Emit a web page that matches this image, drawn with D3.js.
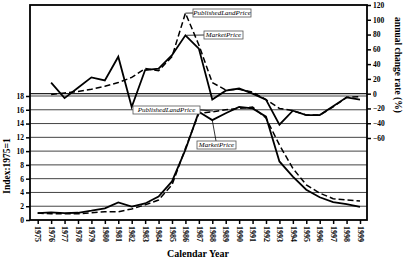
<!DOCTYPE html>
<html><head><meta charset="utf-8">
<script src="https://cdn.jsdelivr.net/npm/d3@7"></script>
<style>body{margin:0;background:#fff}svg{display:block}</style>
</head><body>
<svg id="c" width="405" height="266"></svg>
<script>
const years = d3.range(1975, 2000);
const marketIndex = [1.0,1.1,1.0,1.05,1.35,1.7,2.55,1.95,2.4,3.4,5.6,10.2,15.7,14.5,15.5,16.4,16.2,15.0,8.5,6.3,4.4,3.3,2.6,2.3,1.9];
const landIndex   = [1.0,0.9,0.9,0.9,1.05,1.2,1.2,1.6,2.2,2.9,5.1,10.4,15.5,15.7,16.0,16.2,16.4,14.8,10.9,7.5,5.1,3.9,3.1,2.9,2.75];
const changeYears = d3.range(1976, 2000);
const marketChange = [15,-6,8,22,18,50,-18,32,34,52,79,61,-8,4,7,0,-8,-42,-23,-29,-29,-17,-5,-8];
const landChange   = [-1,1,3,6,10,15,22,34,31,50,109,66,15,5,6,2,-8,-20,-23,-29,-29,-18,-5,-4];
const leftTicks = [0,2,4,6,8,10,12,14,16,18];
const rightTicks = [120,100,80,60,40,20,0,-20,-40,-60];

const svg = d3.select("#c");
const L = 30, R = 367, T = 5, B = 220;
const x = d3.scaleLinear().domain([1975,1999]).range([37.7,360]);
const yL = d3.scaleLinear().domain([0,18]).range([220,96]);
const yR = d3.scaleLinear().domain([-60,120]).range([138,5]);
const font = "'Liberation Serif','Times New Roman',serif";

// gridlines
svg.append("g").selectAll("line").data(leftTicks.filter(d=>d>0)).join("line")
  .attr("x1",L).attr("x2",R).attr("y1",d=>yL(d)).attr("y2",d=>yL(d))
  .attr("stroke","#444").attr("stroke-width",1);
svg.append("line").attr("x1",L).attr("x2",R).attr("y1",yR(0)).attr("y2",yR(0))
  .attr("stroke","#222").attr("stroke-width",1.2);

// frame
svg.append("rect").attr("x",L).attr("y",T).attr("width",R-L).attr("height",B-T)
  .attr("fill","none").attr("stroke","#000").attr("stroke-width",1.8);

// axes
const gx = svg.append("g").attr("transform",`translate(0,${B})`)
  .call(d3.axisBottom(x).tickValues(years).tickFormat(d3.format("d")).tickSize(4).tickSizeOuter(0));
gx.select(".domain").remove();
gx.selectAll("text").attr("transform","rotate(90)").attr("text-anchor","start")
  .attr("x",6).attr("y",0).attr("dy","0.35em");

const gl = svg.append("g").attr("transform",`translate(${L},0)`)
  .call(d3.axisLeft(yL).tickValues(leftTicks).tickSize(4).tickPadding(2));
gl.select(".domain").remove();

const gr = svg.append("g").attr("transform",`translate(${R},0)`)
  .call(d3.axisRight(yR).tickValues(rightTicks).tickSize(4).tickPadding(2));
gr.select(".domain").remove();

svg.selectAll(".tick text").attr("font-family",font).attr("font-weight","bold").attr("font-size",7.5).attr("fill","#000");
gx.selectAll(".tick text").attr("font-size",8);
svg.selectAll(".tick line").attr("stroke","#000").attr("stroke-width",1.5);

// lines
const lineL = d3.line().x((d,i)=>x(years[i])).y(d=>yL(d));
const lineR = d3.line().x((d,i)=>x(changeYears[i])).y(d=>yR(d));
svg.append("path").attr("d",lineL(landIndex)).attr("fill","none").attr("stroke","#000").attr("stroke-width",1.5).attr("stroke-dasharray","6,3");
svg.append("path").attr("d",lineL(marketIndex)).attr("fill","none").attr("stroke","#000").attr("stroke-width",1.8);
svg.append("path").attr("d",lineR(landChange)).attr("fill","none").attr("stroke","#000").attr("stroke-width",1.5).attr("stroke-dasharray","6,3");
svg.append("path").attr("d",lineR(marketChange)).attr("fill","none").attr("stroke","#000").attr("stroke-width",1.8);

// callouts
function callout(text, bx, by, bw, px, py, sx, sy){
  svg.append("line").attr("x1",sx).attr("y1",sy).attr("x2",px).attr("y2",py).attr("stroke","#000").attr("stroke-width",0.8);
  svg.append("rect").attr("x",bx).attr("y",by).attr("width",bw).attr("height",8).attr("fill","#fff").attr("stroke","#555").attr("stroke-width",0.8);
  svg.append("text").attr("x",bx+bw/2).attr("y",by+6.3).attr("text-anchor","middle")
    .attr("font-family",font).attr("font-style","italic").attr("font-size",7).text(text);
}
callout("PublishedLandPrice",193,9,58,x(1986),yR(109),193,13);
callout("MarketPrice",204,31,39,x(1986)+1,yR(79),204,35);
callout("PublishedLandPrice",133,106,67,213,111,200,110);
callout("MarketPrice",197,141,39,x(1988),yL(14.5),216,141);

// titles
svg.append("text").attr("x",198).attr("y",257).attr("text-anchor","middle")
  .attr("font-family",font).attr("font-weight","bold").attr("font-size",10).text("Calendar Year");
svg.append("text").attr("transform","translate(10,166) rotate(-90)").attr("text-anchor","middle")
  .attr("font-family",font).attr("font-weight","bold").attr("font-size",9.5).text("Index:1975=1");
svg.append("text").attr("transform","translate(395,65) rotate(90)").attr("text-anchor","middle")
  .attr("font-family",font).attr("font-weight","bold").attr("font-size",9.5).text("annual change rate (%)");
</script>
</body></html>
